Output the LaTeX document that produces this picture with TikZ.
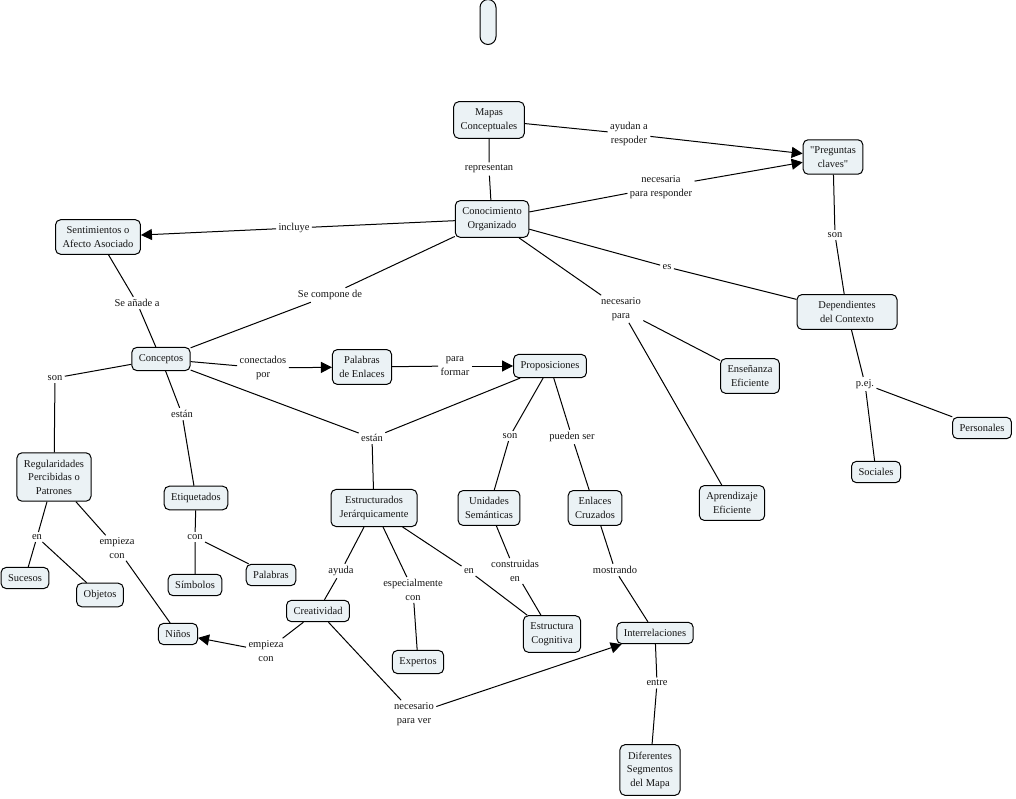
\documentclass[tikz,border=0pt]{standalone}
\usepackage{fontspec}
\setmainfont{Liberation Serif}[Ligatures=TeXOff]
\usetikzlibrary{arrows.meta,positioning}
\definecolor{cmapfill}{RGB}{235,242,245}
\definecolor{inkgray}{RGB}{20,20,20}
\tikzset{
  concept/.style={draw, fill=cmapfill, rounded corners=5pt, line width=1pt, align=center,
    inner xsep=7pt, inner ysep=7pt, text=inkgray, font=\fontsize{10.5}{13.5}\selectfont},
  linkword/.style={align=center, inner sep=2pt, text=inkgray, font=\fontsize{10.5}{13.5}\selectfont},
  arr/.style={-{Triangle[length=11pt,width=11pt]}},
}

\begin{document}
\begin{tikzpicture}[x=1pt,y=-1pt,line width=1pt]
\useasboundingbox (0,0) rectangle (1016,799);

\node[concept, minimum width=16pt, minimum height=45pt, inner sep=0pt, rounded corners=8pt] (top) at (488,22) {};
\node[concept] (mapas) at (489,120) {Mapas\\Conceptuales};
\node[concept] (preg) at (833,157) {"Preguntas\\claves"};
\node[concept] (conoc) at (492,219) {Conocimiento\\Organizado};
\node[concept] (senti) at (98,237) {Sentimientos o\\Afecto Asociado};
\node[concept] (conce) at (161,359) {Conceptos};
\node[concept] (palenl) at (362,367) {Palabras\\de Enlaces};
\node[concept] (propo) at (550,366) {Proposiciones};
\node[concept, minimum width=100pt] (depen) at (847,312) {Dependientes\\del Contexto};
\node[concept] (ensen) at (750,376) {Enseñanza\\Eficiente};
\node[concept] (perso) at (982,428) {Personales};
\node[concept] (socia) at (876,472) {Sociales};
\node[concept] (regul) at (54,477) {Regularidades\\Percibidas o\\Patrones};
\node[concept] (etiq) at (196,498) {Etiquetados};
\node[concept, minimum width=86pt] (estru) at (374,508) {Estructurados\\Jerárquicamente};
\node[concept] (unida) at (489,508) {Unidades\\Semánticas};
\node[concept] (enlcr) at (595,508) {Enlaces\\Cruzados};
\node[concept] (apren) at (732,503) {Aprendizaje\\Eficiente};
\node[concept] (suces) at (25,578) {Sucesos};
\node[concept] (objet) at (100,595) {Objetos};
\node[concept] (simbo) at (195,585) {Símbolos};
\node[concept] (palab) at (271,575) {Palabras};
\node[concept] (creat) at (318,611) {Creatividad};
\node[concept] (ninos) at (178,634) {Niños};
\node[concept] (estcog) at (552,634) {Estructura\\Cognitiva};
\node[concept] (inter) at (655,633) {Interrelaciones};
\node[concept] (exper) at (418,662) {Expertos};
\node[concept] (difer) at (650,770) {Diferentes\\Segmentos\\del Mapa};

\node[linkword] (l1) at (489,169) {representan};
\node[linkword] (l2) at (629,134) {ayudan a\\respoder};
\node[linkword] (l3) at (661,187) {necesaria\\para responder};
\node[linkword] (l4) at (294,228) {incluye};
\node[linkword] (l5) at (330,295) {Se compone de};
\node[linkword] (l6) at (667,267) {es};
\node[linkword] (l7) at (621,309) {necesario\\para};
\node[linkword] (l8) at (835,235) {son};
\node[linkword] (l9) at (137,303) {Se añade a};
\node[linkword] (l10) at (55,378) {son};
\node[linkword] (l11) at (263,368) {conectados\\por};
\node[linkword] (l12) at (455,366) {para\\formar};
\node[linkword] (l13) at (182,414) {están};
\node[linkword] (l14) at (372,438) {están};
\node[linkword] (l15) at (510,436) {son};
\node[linkword] (l16) at (572,437) {pueden ser};
\node[linkword] (l17) at (865,384) {p.ej.};
\node[linkword] (l18) at (37,537) {en};
\node[linkword] (l19) at (117,548) {empieza\\con};
\node[linkword] (l20) at (195,537) {con};
\node[linkword] (l21) at (341,571) {ayuda};
\node[linkword] (l22) at (413,590) {especialmente\\con};
\node[linkword] (l23) at (469,571) {en};
\node[linkword] (l24) at (515,571) {construidas\\en};
\node[linkword] (l25) at (615,570) {mostrando};
\node[linkword] (l26) at (266,651) {empieza\\con};
\node[linkword] (l27) at (414,714) {necesario\\para ver};
\node[linkword] (l28) at (657,683) {entre};

\draw (mapas) -- (l1) -- (conoc);
\draw (mapas) -- (l2);
\draw[arr] (l2) -- (preg);
\draw (conoc) -- (l3);
\draw[arr] (l3) -- (preg);
\draw (conoc) -- (l4);
\draw[arr] (l4) -- (senti);
\draw (conoc) -- (l5) -- (conce);
\draw (conoc) -- (l6) -- (depen);
\draw (conoc) -- (l7) -- (ensen);
\draw (l7) -- (apren);
\draw (preg) -- (l8) -- (depen);
\draw (depen) -- (l17) -- (perso);
\draw (l17) -- (socia);
\draw (senti) -- (l9) -- (conce);
\draw (conce) -- (l10) -- (regul);
\draw (conce) -- (l11);
\draw[arr] (l11) -- (palenl);
\draw (palenl) -- (l12);
\draw[arr] (l12) -- (propo);
\draw (conce) -- (l13) -- (etiq);
\draw (conce) -- (l14) -- (estru);
\draw (propo) -- (l14);
\draw (propo) -- (l15) -- (unida);
\draw (propo) -- (l16) -- (enlcr);
\draw (regul) -- (l18) -- (suces);
\draw (l18) -- (objet);
\draw (regul) -- (l19) -- (ninos);
\draw (etiq) -- (l20) -- (simbo);
\draw (l20) -- (palab);
\draw (estru) -- (l21) -- (creat);
\draw (estru) -- (l22) -- (exper);
\draw (estru) -- (l23) -- (estcog);
\draw (unida) -- (l24) -- (estcog);
\draw (enlcr) -- (l25) -- (inter);
\draw (creat) -- (l26);
\draw[arr] (l26) -- (ninos);
\draw (creat) -- (l27);
\draw[arr] (l27) -- (inter);
\draw (inter) -- (l28) -- (difer);
\end{tikzpicture}
\end{document}
